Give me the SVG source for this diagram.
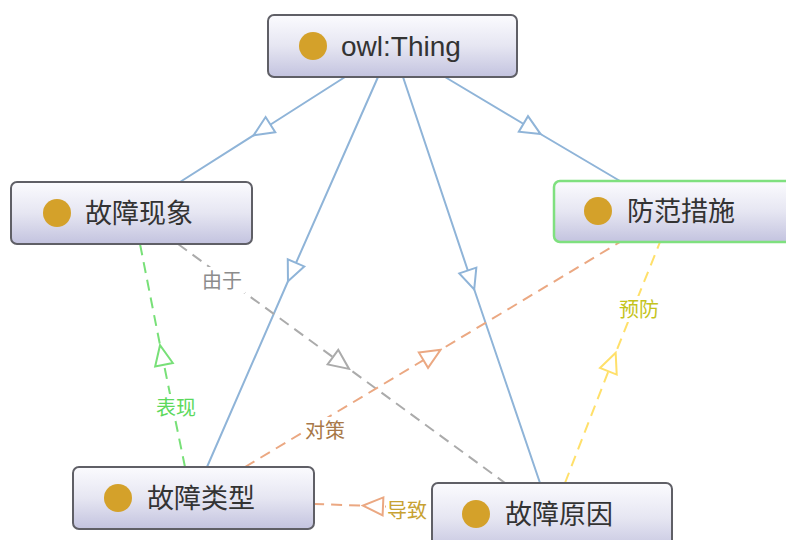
<svg xmlns="http://www.w3.org/2000/svg" width="786" height="540" viewBox="0 0 786 540">
<defs>
<linearGradient id="nodeGrad" x1="0" y1="0" x2="0" y2="1">
<stop offset="0" stop-color="#fbfbfe"/>
<stop offset="0.5" stop-color="#e6e6f2"/>
<stop offset="1" stop-color="#c3c3df"/>
</linearGradient>
<marker id="mBlue" markerUnits="userSpaceOnUse" markerWidth="24" markerHeight="22" viewBox="-2 -11 24 22" refX="10" refY="0" orient="auto"><path d="M0,-9 L20,0 L0,9 Z" fill="#fff" stroke="#8fb4d8" stroke-width="2"/></marker>
<marker id="mGray" markerUnits="userSpaceOnUse" markerWidth="24" markerHeight="22" viewBox="-2 -11 24 22" refX="10" refY="0" orient="auto"><path d="M0,-9 L20,0 L0,9 Z" fill="#fff" stroke="#ababab" stroke-width="2"/></marker>
<marker id="mGreen" markerUnits="userSpaceOnUse" markerWidth="24" markerHeight="22" viewBox="-2 -11 24 22" refX="10" refY="0" orient="auto"><path d="M0,-9 L20,0 L0,9 Z" fill="#fff" stroke="#78e078" stroke-width="2"/></marker>
<marker id="mOrange" markerUnits="userSpaceOnUse" markerWidth="24" markerHeight="22" viewBox="-2 -11 24 22" refX="10" refY="0" orient="auto"><path d="M0,-9 L20,0 L0,9 Z" fill="#fff" stroke="#eba882" stroke-width="2"/></marker>
<marker id="mYellow" markerUnits="userSpaceOnUse" markerWidth="24" markerHeight="22" viewBox="-2 -11 24 22" refX="10" refY="0" orient="auto"><path d="M0,-9 L20,0 L0,9 Z" fill="#fff" stroke="#ffe06a" stroke-width="2"/></marker>
</defs>
<style>
.node rect { fill: url(#nodeGrad); stroke: #5f5f66; stroke-width: 2; }
.node circle { fill: #d4a12a; }
.node text { font-family: "Noto Sans CJK SC", "Liberation Sans", sans-serif; font-size: 27px; fill: #333; }
.sub { fill: none; stroke: #8fb4d8; stroke-width: 2; marker-mid: url(#mBlue); }
.dash { fill: none; stroke-width: 2; stroke-dasharray: 11 7; }
.lbl { font-family: "Noto Sans CJK SC", sans-serif; font-size: 20px; }
.bg { fill: #fff; }
</style>
<rect width="786" height="540" fill="#fff"/>
<g id="connectors">
<polyline class="sub" points="345,77 262,130 180,182"/>
<polyline class="sub" points="378,77 292,272 207,467"/>
<polyline class="sub" points="403,77 471,280 540,483"/>
<polyline class="sub" points="445,77 532,129 620,181"/>
<polyline class="dash" stroke="#ababab" marker-mid="url(#mGray)" points="178,244 341,363 505,483"/>
<polyline class="dash" stroke="#78e078" marker-mid="url(#mGreen)" points="185,467 162,355 140,244"/>
<polyline class="dash" stroke="#eba882" marker-mid="url(#mOrange)" points="245,467 432,355 620,242"/>
<polyline class="dash" stroke="#ffe06a" marker-mid="url(#mYellow)" points="565,483 612,362 660,242"/>
<polyline class="dash" stroke="#eba882" marker-mid="url(#mOrange)" points="432,509 373,506 314,504"/>
<rect class="bg" x="200" y="267" width="45" height="26"/>
<text class="lbl" x="202" y="288" fill="#8c8c8c">由于</text>
<rect class="bg" x="155" y="394" width="46" height="26"/>
<text class="lbl" x="156" y="415" fill="#5cd95c">表现</text>
<rect class="bg" x="304" y="417" width="46" height="26"/>
<text class="lbl" x="305" y="438" fill="#a87848">对策</text>
<rect class="bg" x="618" y="296" width="46" height="26"/>
<text class="lbl" x="619" y="317" fill="#c4c41c">预防</text>
<rect class="bg" x="386" y="497" width="46" height="26"/>
<text class="lbl" x="387" y="518" fill="#c8a232">导致</text>
</g>
<g id="owlThing" class="node">
<rect x="268" y="15" width="249" height="62" rx="6"/>
<circle cx="313" cy="46" r="14"/>
<text x="341" y="56" style="font-family:'Liberation Sans','DejaVu Sans',sans-serif;font-size:28px">owl:Thing</text>
</g>
<g id="guzhangxianxiang" class="node">
<rect x="11" y="182" width="241" height="62" rx="6"/>
<circle cx="57" cy="213" r="14"/>
<text x="85" y="223">故障现象</text>
</g>
<g id="fangfancuoshi" class="node">
<rect x="554" y="181" width="250" height="61" rx="6" style="stroke:#7fe07f;stroke-width:2.5"/>
<circle cx="598" cy="211" r="14"/>
<text x="627" y="221">防范措施</text>
</g>
<g id="guzhangleixing" class="node">
<rect x="73" y="467" width="241" height="62" rx="6"/>
<circle cx="118" cy="498" r="14"/>
<text x="147" y="508">故障类型</text>
</g>
<g id="guzhangyuanyin" class="node">
<rect x="432" y="483" width="240" height="70" rx="6"/>
<circle cx="476" cy="514" r="14"/>
<text x="505" y="524">故障原因</text>
</g>
</svg>
